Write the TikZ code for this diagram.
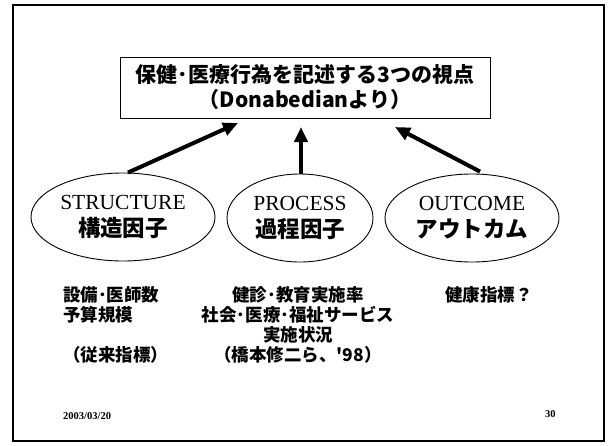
\documentclass[tikz,border=0pt]{standalone}
\usepackage{fontspec}
\setmainfont{Liberation Serif}
\newfontfamily\jp{Noto Sans CJK JP}[Ligatures=TeXOff]
\usetikzlibrary{shapes.geometric,arrows.meta}
\tikzset{
  frame/.style={line width=2.5pt},
  titlebox/.style={draw,line width=0.9pt,minimum width=370pt,minimum height=61pt,inner sep=0pt,align=center,font=\jp\bfseries\fontsize{21}{25}\selectfont},
  oval/.style={draw,ellipse,line width=0.9pt,inner sep=0pt,minimum height=88pt,align=center,font=\fontsize{21.5}{28}\selectfont},
  arr/.style={line width=4pt,-{Triangle[length=15pt,width=13pt]}},
  body/.style={inner sep=0pt,font=\jp\bfseries\fontsize{17.5}{20}\selectfont},
  foot/.style={inner sep=0pt,font=\bfseries\fontsize{10.5}{10.5}\selectfont}
}
\begin{document}
\begin{tikzpicture}[x=1pt,y=-1pt]
\useasboundingbox (0,0) rectangle (611,445);
\draw[frame] (13,5) rectangle (604,441);
\node[titlebox] (title) at (305,87.5) {保健･医療行為を記述する3つの視点\\（Donabedianより）};
\node[oval,minimum width=184pt] (s) at (123,217) {STRUCTURE\\[-1pt]{\jp\bfseries\fontsize{22.5}{22.5}\selectfont 構造因子}};
\node[oval,minimum width=146pt] (p) at (300,218) {PROCESS\\[-1pt]{\jp\bfseries\fontsize{22.5}{22.5}\selectfont 過程因子}};
\node[oval,minimum width=174pt] (o) at (472,218) {OUTCOME\\[-1pt]{\jp\bfseries\fontsize{22.5}{22.5}\selectfont アウトカム}};
\coordinate (t1) at (238,123);
\coordinate (t2) at (301,127);
\coordinate (t3) at (395,127);
\draw[arr] ([xshift=5pt]s.north) -- (t1);
\draw[arr] ([xshift=1pt]p.north) -- (t2);
\draw[arr] ([xshift=8pt,yshift=2pt]o.north) -- (t3);
\node[body,anchor=north west,align=left] (left) at (63,286) {設備･医師数\\予算規模\\[20pt]（従来指標）};
\node[body,anchor=north,align=center] (mid) at (298,286) {健診･教育実施率\\社会･医療･福祉サービス\\実施状況\\（橋本修二ら、'98）};
\node[body,anchor=north west,align=left] (right) at (445,286) {健康指標？};
\node[foot,anchor=west] (date) at (63,416) {2003/03/20};
\node[foot,anchor=west] (num) at (545,414) {30};
\end{tikzpicture}
\end{document}
